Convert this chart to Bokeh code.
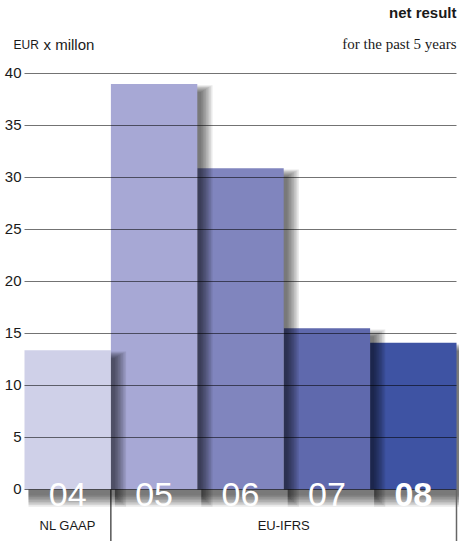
from bokeh.plotting import figure
from bokeh.models import Range1d, ColumnDataSource
from bokeh.core.properties import value
from bokeh.embed import file_html
from bokeh.resources import INLINE

# ---- data ----
years = ["04", "05", "06", "07", "08"]
net_result = [13.4, 39.0, 30.9, 15.5, 14.1]
bar_colors = ["#cfd0e8", "#a7a8d5", "#8085be", "#5f69ad", "#3e53a3"]
year_styles = ["normal", "normal", "normal", "normal", "bold"]
y_ticks = [0, 5, 10, 15, 20, 25, 30, 35, 40]
groups = ["NL GAAP", "EU-IFRS"]
group_first = [0, 1]
group_last = [0, 4]

# ---- layout ----
W, H = 459, 541
PXX = 86.4   # px per bar
PXY = 10.4   # px per unit
LEFT_PAD = 24
TOP_40 = 73
x_start = -LEFT_PAD / PXX
x_end = x_start + W / PXX
y_end = 40 + TOP_40 / PXY
y_start = y_end - H / PXY

def cx(px):
    return x_start + px / PXX

def cy(py):
    return y_end - py / PXY

p = figure(width=W, height=H, x_range=Range1d(x_start, x_end),
           y_range=Range1d(y_start, y_end), output_backend="svg",
           toolbar_location=None, min_border=0,
           x_axis_location=None, y_axis_location=None)
p.grid.visible = False
p.outline_line_color = None
p.background_fill_color = "white"
p.border_fill_color = "white"

SANS = value("Liberation Sans")
SERIF = value("Liberation Serif")

# ---- bars with drop shadows (right to left so each shadow falls on next bar) ----
n_layers = 8
n = len(years)
for i in reversed(range(n)):
    v = net_result[i]
    L, R, T, B = [], [], [], []
    for k in range(n_layers):
        r = k * 1.6
        L.append(i + 4 / PXX)
        R.append(i + 1 + (4 + r) / PXX)
        T.append(v - (8 - 0.6 * r) / PXY)
        B.append(-(6 + r) / PXY)
    p.quad(left=L, right=R, top=T, bottom=B, fill_color="black",
           fill_alpha=0.085, line_color=None)
    p.quad(left=[i], right=[i + 1], top=[v], bottom=[0],
           fill_color=bar_colors[i], line_color=None)

# ---- gridlines over bars ----
p.segment(x0=[0] * len(y_ticks), x1=[n] * len(y_ticks), y0=y_ticks, y1=y_ticks,
          line_color="black", line_alpha=0.55, line_width=1.1)

# ---- y tick labels ----
p.text(x=[cx(21)] * len(y_ticks), y=[t + 1 / PXY for t in y_ticks],
       text=[str(t) for t in y_ticks], text_align="right",
       text_baseline="alphabetic", text_font=SANS, text_font_size="15px",
       text_color="#1a1a1a")

# ---- year labels inside bars ----
src = ColumnDataSource(dict(x=[i + 0.5 for i in range(n)],
                            y=[-5 / PXY] * n, t=years, s=year_styles))
p.text(x="x", y="y", text="t", source=src, text_align="center",
       text_baseline="alphabetic", text_font=SANS, text_font_size="34px",
       text_font_style="s", text_color="white")

# ---- group table below ----
gx = [group_last[j] + 1 for j in range(len(groups))]
p.segment(x0=gx, x1=gx, y0=[0] * len(gx), y1=[y_start] * len(gx),
          line_color=["black", "#666666"], line_width=[1, 1.5])
p.text(x=[(group_first[j] + group_last[j] + 1) / 2 for j in range(len(groups))],
       y=[cy(525)] * len(groups), text=groups, text_align="center",
       text_baseline="alphabetic", text_font=SANS, text_font_size="13px",
       text_color="#1a1a1a")

# ---- titles ----
p.text(x=[n], y=[cy(12)], text=["net result"], text_align="right",
       text_baseline="alphabetic", text_font=SANS, text_font_size="15px",
       text_font_style="bold", text_color="#1a1a1a")
p.text(x=[n], y=[cy(43)], text=["for the past 5 years"], text_align="right",
       text_baseline="alphabetic", text_font=SERIF, text_font_size="15px",
       text_color="#1a1a1a")
p.text(x=[cx(13)], y=[cy(44)], text=["EUR"], text_align="left",
       text_baseline="alphabetic", text_font=SANS, text_font_size="12px",
       text_color="#1a1a1a")
p.text(x=[cx(43)], y=[cy(44)], text=["x millon"], text_align="left",
       text_baseline="alphabetic", text_font=SANS, text_font_size="15px",
       text_color="#1a1a1a")

open("out.html", "w").write(file_html(p, INLINE))
